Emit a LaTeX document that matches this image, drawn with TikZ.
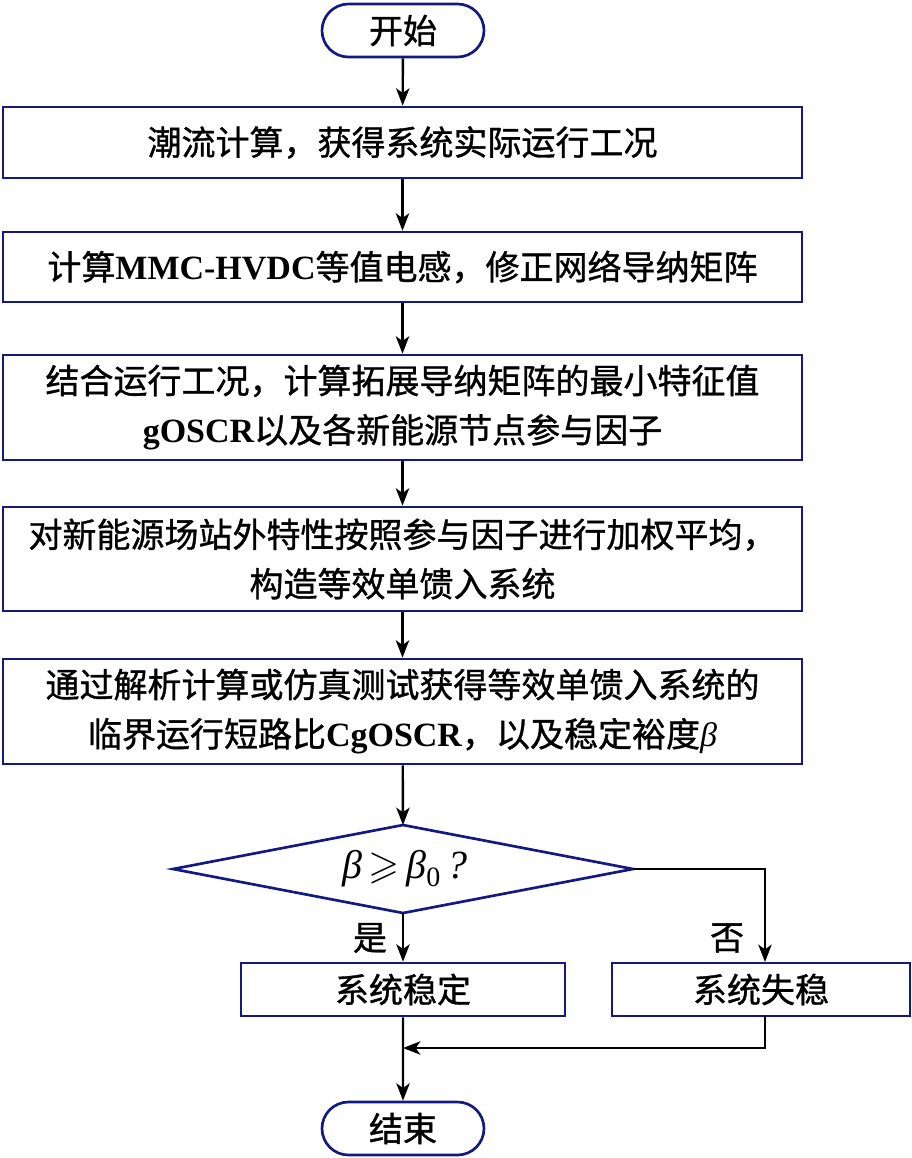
\documentclass[tikz,border=0pt]{standalone}
\usepackage{amsmath,amssymb}
\usepackage{fontspec}
\setmainfont{Liberation Serif}
\newfontfamily\cjk{Noto Sans CJK SC}[FakeBold=1]
\usetikzlibrary{shapes.geometric,shapes.misc,arrows.meta}
\newcommand\en[1]{{\rmfamily\bfseries #1}}
\definecolor{navy}{RGB}{20,25,130}
\begin{document}
\begin{tikzpicture}[x=0.75pt,y=-0.75pt,
  txt/.style={font=\cjk\fontsize{25.5}{37}\selectfont},
  box/.style={txt,draw=navy,line width=2pt,minimum width=599.25pt,align=center,inner sep=0pt},
  term/.style={txt,rounded rectangle,draw=navy,line width=2pt,minimum width=121.5pt,minimum height=39.75pt,inner sep=0pt},
  arr/.style={-{Stealth[length=13pt,width=10pt,inset=3.5pt]},line width=1.8pt}]
\useasboundingbox (0,0) rectangle (912,1158);
\node[term] (start) at (403,30.5) {开始};
\node[box,minimum height=53.25pt] (b1) at (402.5,142.5) {潮流计算，获得系统实际运行工况};
\node[box,minimum height=52.5pt] (b2) at (402.5,267) {计算\en{MMC-HVDC}等值电感，修正网络导纳矩阵};
\node[box,minimum height=78.75pt] (b3) at (402.5,407.5) {结合运行工况，计算拓展导纳矩阵的最小特征值\\\en{gOSCR}以及各新能源节点参与因子};
\node[box,minimum height=78pt] (b4) at (402.5,559) {对新能源场站外特性按照参与因子进行加权平均，\\构造等效单馈入系统};
\node[box,minimum height=78.75pt] (b5) at (402.5,711.5) {通过解析计算或仿真测试获得等效单馈入系统的\\临界运行短路比\en{CgOSCR}，以及稳定裕度{\rmfamily\itshape β}};
\coordinate (dt) at (403,825);
\coordinate (dr) at (633,869);
\coordinate (db) at (403,913);
\coordinate (dl) at (173,869);
\draw[navy,line width=2pt,line join=miter] (dt) -- (dr) -- (db) -- (dl) -- cycle;
\node[inner sep=0pt,font=\rmfamily\fontsize{30}{36}\selectfont] (d) at (405,869)
  {\itshape β\,$\geqslant$\,β\textsubscript{\upshape 0}\,?};
\node[box,minimum width=243pt,minimum height=39.75pt] (s) at (403,989.5) {系统稳定};
\node[box,minimum width=223.5pt,minimum height=39.75pt] (u) at (761,989.5) {系统失稳};
\node[term] (end) at (403,1128.5) {结束};
\node[txt] (yes) at (370,938) {是};
\node[txt] (no) at (727,938) {否};
\coordinate (m) at (403,1048);
\coordinate (ut) at (765,962);
\coordinate (ub) at (765,1016);
\draw[arr] (start) -- (b1);
\draw[arr] (b1) -- (b2);
\draw[arr] (b2) -- (b3);
\draw[arr] (b3) -- (b4);
\draw[arr] (b4) -- (b5);
\draw[arr] (b5) -- (dt);
\draw[arr] (db) -- (s);
\draw[arr] (dr) -| (ut);
\draw[arr] (ub) |- (m);
\draw[arr] (s) -- (end);
\end{tikzpicture}
\end{document}
